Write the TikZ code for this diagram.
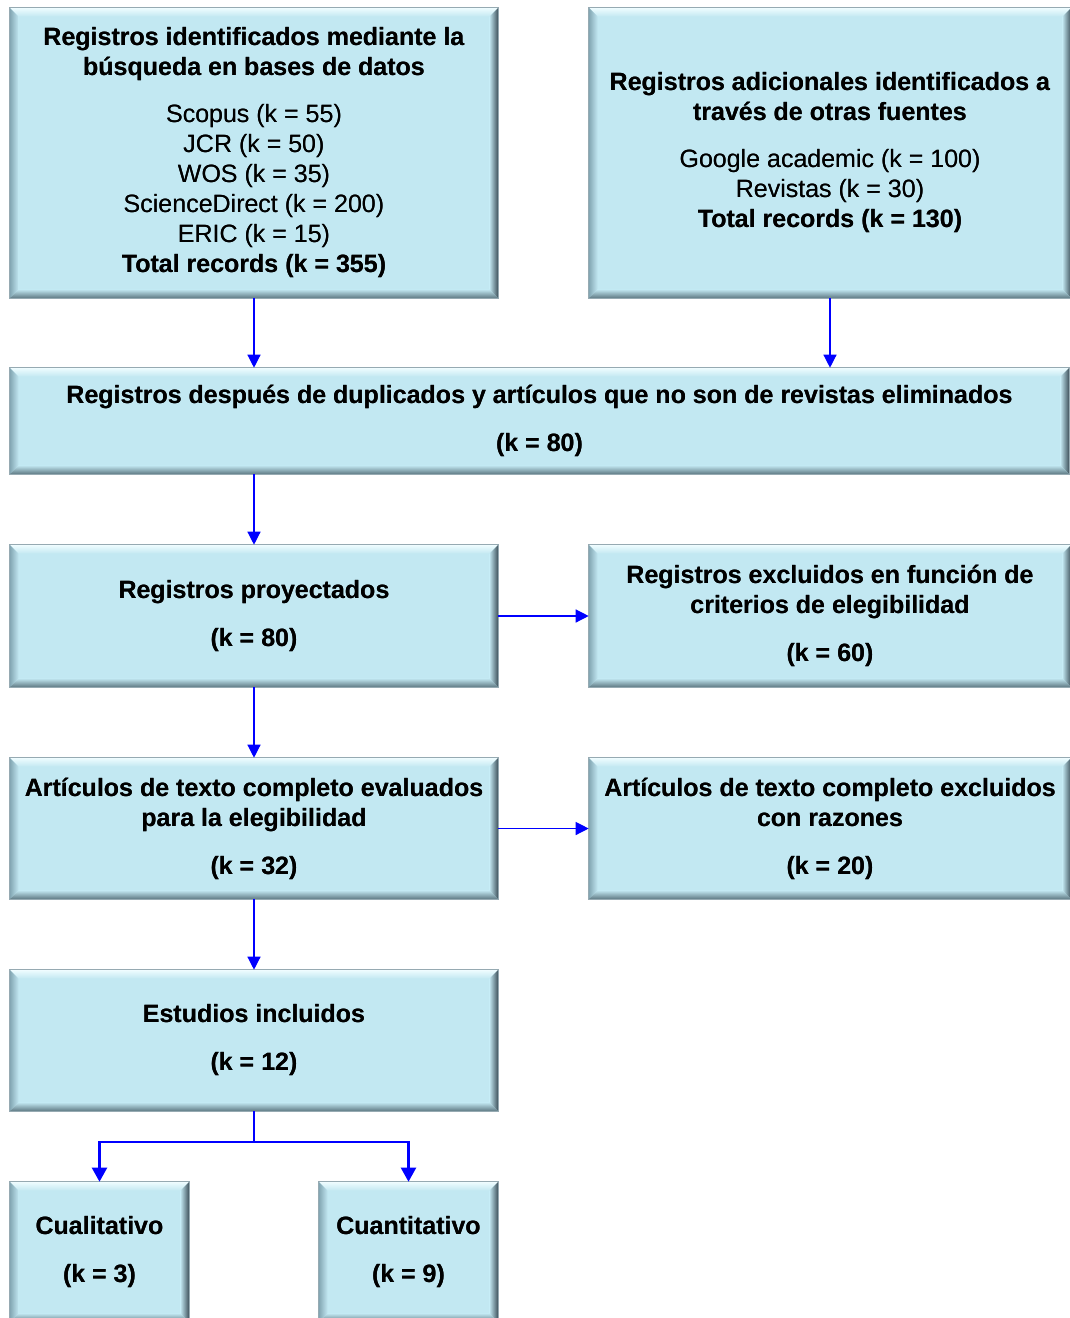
\documentclass[tikz,border=0pt]{standalone}
\usepackage{fontspec}
\setmainfont{Liberation Sans}
\usetikzlibrary{arrows.meta}
\definecolor{boxfill}{RGB}{194,232,242}
\definecolor{bevtop}{RGB}{240,253,255}
\definecolor{bevleft}{RGB}{130,165,178}
\definecolor{bevright}{RGB}{60,78,88}
\definecolor{bevbot}{RGB}{92,118,128}
\definecolor{boxline}{RGB}{150,170,178}
\definecolor{arrblue}{RGB}{0,0,255}
\tikzset{
  boxst/.style={fill=boxfill, draw=boxline, line width=0.6pt, inner sep=0pt, align=center,
    font=\fontsize{25}{30}\selectfont},
  arr/.style={draw=arrblue, line width=1.3pt, -{Triangle[width=13pt,length=13pt]}},
  arrb/.style={draw=arrblue, line width=2.2pt, -{Triangle[width=15pt,length=14pt]}},
}
% name, center x, center y, width, height, text
\newcommand\bevbox[6]{%
  \node[boxst, minimum width=#4pt, minimum height=#5pt] (#1) at (#2,#3) {#6};
  \shade[top color=bevtop, bottom color=boxfill] (#1.north west) -- (#1.north east) -- ([xshift=-9pt,yshift=-9pt]#1.north east) -- ([xshift=9pt,yshift=-9pt]#1.north west) -- cycle;
  \shade[left color=bevleft, right color=boxfill] (#1.north west) -- (#1.south west) -- ([xshift=9pt,yshift=9pt]#1.south west) -- ([xshift=9pt,yshift=-9pt]#1.north west) -- cycle;
  \shade[left color=boxfill, right color=bevright] (#1.north east) -- (#1.south east) -- ([xshift=-9pt,yshift=9pt]#1.south east) -- ([xshift=-9pt,yshift=-9pt]#1.north east) -- cycle;
  \shade[top color=boxfill, bottom color=bevbot] (#1.south west) -- (#1.south east) -- ([xshift=-9pt,yshift=9pt]#1.south east) -- ([xshift=9pt,yshift=9pt]#1.south west) -- cycle;
  \draw[boxline, line width=0.6pt] (#1.north west) rectangle (#1.south east);
  \node[boxst, fill=none, draw=none] at (#1.center) {#6};
}
\begin{document}
\begin{tikzpicture}[x=1pt,y=-1pt]
\useasboundingbox[fill=white] (0,0) rectangle (1069,1318);
\bevbox{A}{254}{153}{488}{290}{\textbf{Registros identificados mediante la}\\\textbf{búsqueda en bases de datos}\\[17pt]Scopus (k = 55)\\JCR (k = 50)\\WOS (k = 35)\\ScienceDirect (k = 200)\\ERIC (k = 15)\\\textbf{Total records (k = 355)}}
\bevbox{B}{830}{153}{482}{290}{\textbf{Registros adicionales identificados a}\\\textbf{través de otras fuentes}\\[17pt]Google academic (k = 100)\\Revistas (k = 30)\\\textbf{Total records (k = 130)}}
\bevbox{C}{539.5}{421}{1059}{106}{\textbf{Registros después de duplicados y artículos que no son de revistas eliminados}\\[18pt]\textbf{(k = 80)}}
\bevbox{D}{254}{616}{488}{142}{\textbf{Registros proyectados}\\[18pt]\textbf{(k = 80)}}
\bevbox{E}{830}{616}{482}{142}{\textbf{Registros excluidos en función de}\\\textbf{criterios de elegibilidad}\\[18pt]\textbf{(k = 60)}}
\bevbox{F}{254}{828.5}{488}{141}{\textbf{Artículos de texto completo evaluados}\\\textbf{para la elegibilidad}\\[18pt]\textbf{(k = 32)}}
\bevbox{G}{830}{828.5}{482}{141}{\textbf{Artículos de texto completo excluidos}\\\textbf{con razones}\\[18pt]\textbf{(k = 20)}}
\bevbox{H}{254}{1040.5}{488}{141}{\textbf{Estudios incluidos}\\[18pt]\textbf{(k = 12)}}
\bevbox{I}{99.5}{1252}{179}{140}{\textbf{Cualitativo}\\[18pt]\textbf{(k = 3)}}
\bevbox{J}{408.5}{1252}{179}{140}{\textbf{Cuantitativo}\\[18pt]\textbf{(k = 9)}}
\draw[arr] (A.south) -- (A.south |- C.north);
\draw[arr] (B.south) -- (B.south |- C.north);
\draw[arr] (C.south -| D.north) -- (D.north);
\draw[arr] (D.east) -- (E.west);
\draw[arr] (D.south) -- (F.north);
\draw[arr] (F.east) -- (G.west);
\draw[arr] (F.south) -- (H.north);
\coordinate (Hb) at ([yshift=-31pt]H.south);
\draw[arrb] (H.south) -- (Hb) -| (I.north);
\draw[arrb] (Hb) -| (J.north);
\end{tikzpicture}
\end{document}
